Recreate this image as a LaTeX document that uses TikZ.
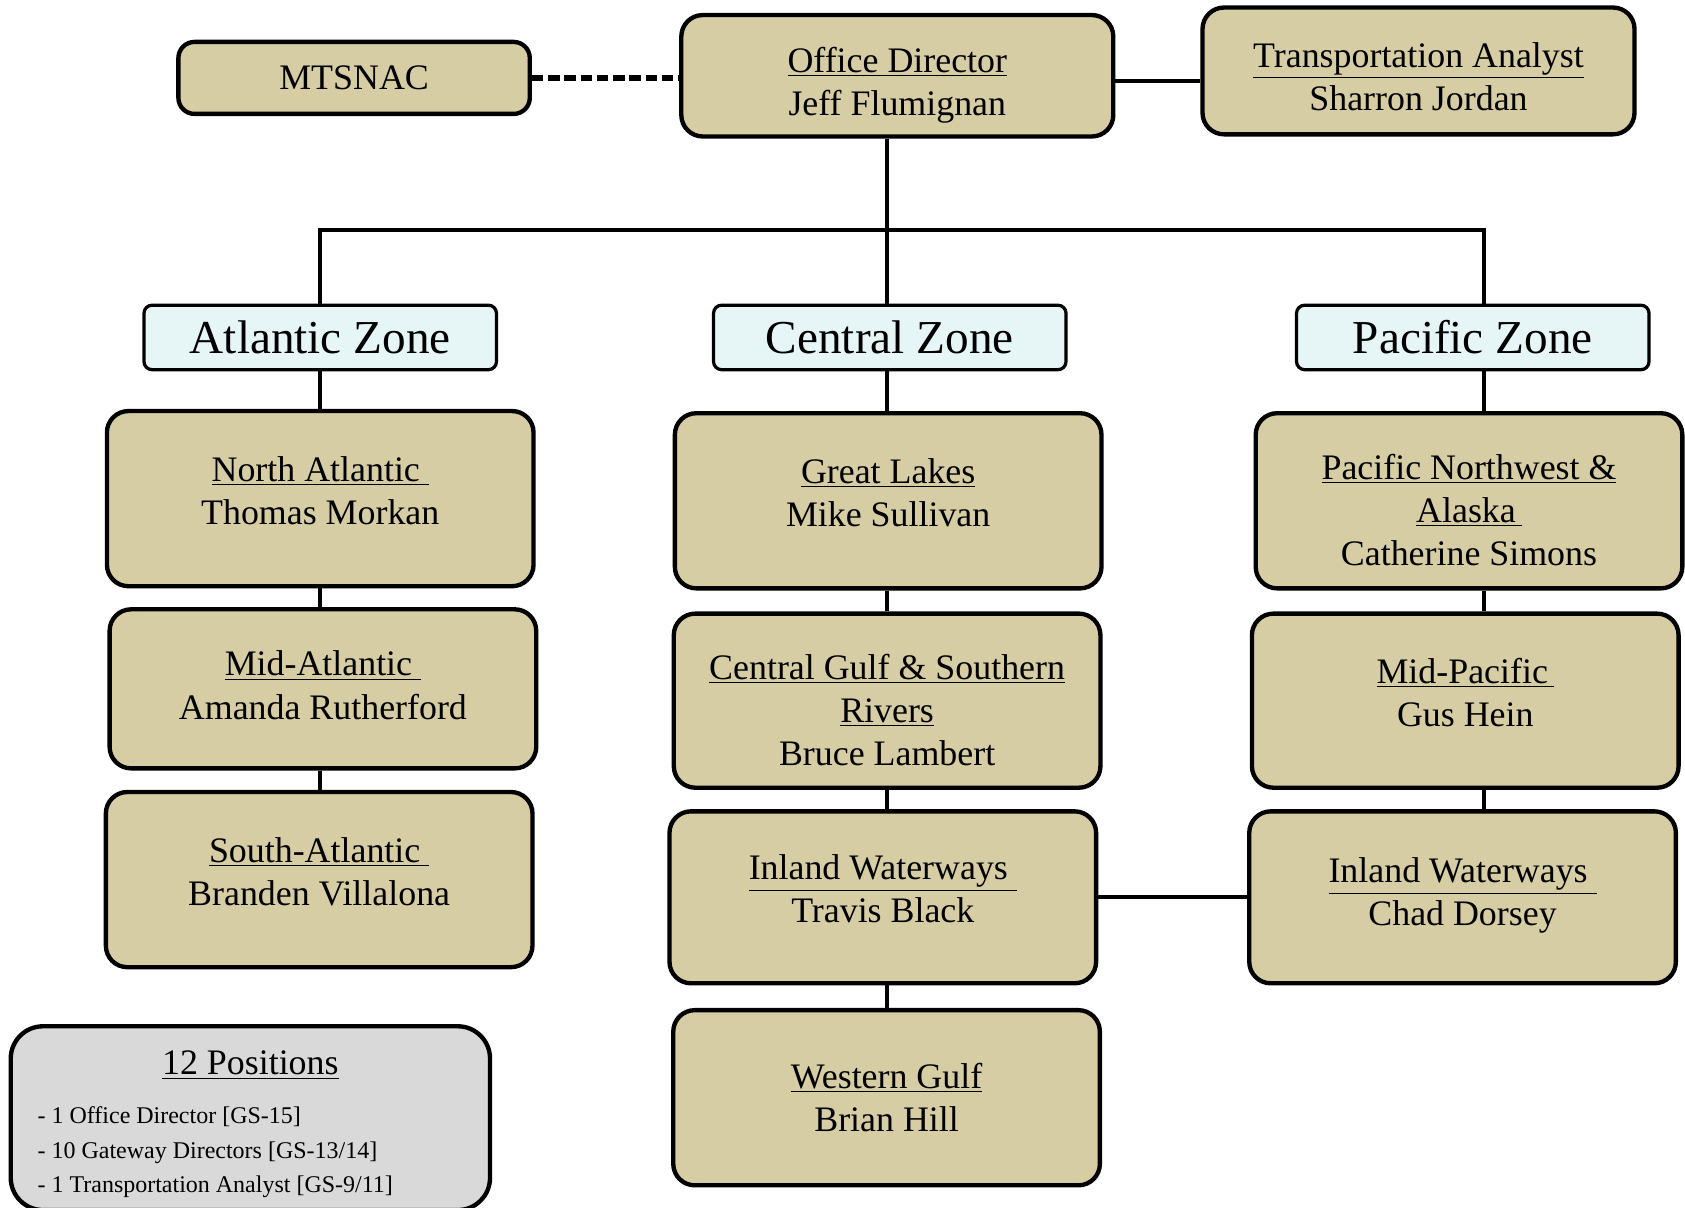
\documentclass[tikz,border=0pt]{standalone}
\usepackage{fontspec}
\setmainfont{Liberation Serif}
\usepackage{tikz}

\definecolor{boxtan}{RGB}{214,205,165}
\definecolor{zoneblue}{RGB}{230,245,246}
\definecolor{notegray}{RGB}{217,217,217}

\newcommand{\lift}{\rule[-9pt]{0pt}{9pt}}
\newcommand{\drop}{\rule{0pt}{23pt}}

\begin{document}
\begin{tikzpicture}[every node/.append style={draw, fill=boxtan, line width=2.3pt, rounded corners=0.4cm, align=center, inner sep=0pt, font=\fontsize{19}{22.8}\selectfont},
    office/.style={minimum width=7.94cm, minimum height=3.26cm},
    zone/.style={fill=zoneblue, line width=1.7pt, rounded corners=0.15cm, minimum width=6.56cm, minimum height=1.2cm, font=\fontsize{25}{30}\selectfont},
    link/.style={line width=2.1pt}]
        \useasboundingbox (0,0) rectangle (31.36,-22.48);

        \node [minimum width=6.54cm, minimum height=1.34cm, rounded corners=0.3cm] (mtsnac) at (6.59,-1.45) {MTSNAC};
        \node [minimum width=8.04cm, minimum height=2.26cm] (od) at (16.7,-1.41) {\drop\underline{Office Director}\\Jeff Flumignan};
        \node [minimum width=8.04cm, minimum height=2.36cm] (ta) at (26.4,-1.32) {\rule{0pt}{19pt}\underline{Transportation Analyst}\\Sharron Jordan};

        \node [zone] (az) at (5.96,-6.28) {Atlantic Zone};
        \node [zone] (cz) at (16.56,-6.28) {Central Zone};
        \node [zone] (pz) at (27.41,-6.28) {Pacific Zone};

        \node [office] (na) at (5.96,-9.28) {\underline{North Atlantic\ }\\Thomas Morkan\lift};
        \node [office, minimum height=2.96cm] (ma) at (6.01,-12.82) {\underline{Mid-Atlantic\ }\\Amanda Rutherford\rule[-4pt]{0pt}{4pt}};
        \node [office] (sa) at (5.94,-16.37) {\underline{South-Atlantic\ }\\Branden Villalona\lift};

        \node [office] (gl) at (16.53,-9.32) {\underline{Great Lakes}\\Mike Sullivan\lift};
        \node [office, minimum height=3.24cm] (cg) at (16.51,-13.04) {\drop\underline{Central Gulf \& Southern}\\\underline{Rivers}\\Bruce Lambert};
        \node [office, minimum height=3.2cm] (iwc) at (16.43,-16.7) {\underline{Inland Waterways\ }\\Travis Black\lift};
        \node [office] (wg) at (16.5,-20.43) {\underline{Western Gulf}\\Brian Hill};

        \node [office] (pnw) at (27.34,-9.32) {\drop\underline{Pacific Northwest \&}\\\underline{Alaska\,}\\Catherine Simons};
        \node [office, minimum height=3.24cm] (mp) at (27.27,-13.04) {\underline{Mid-Pacific\,}\\Gus Hein\lift};
        \node [office, minimum height=3.2cm] (iwp) at (27.22,-16.7) {\underline{Inland Waterways\ }\\Chad Dorsey\rule[-6pt]{0pt}{6pt}};

        \node [fill=notegray, rounded corners=0.6cm, minimum width=8.92cm, minimum height=3.42cm] (pos) at (4.66,-20.81)
            {\rule{0pt}{22pt}\underline{12 Positions}\\[10pt]
             \makebox[7.92cm][l]{\fontsize{12.7}{18.2}\selectfont
             \begin{tabular}{@{}l@{}}
             - 1 Office Director [GS-15]\\
             - 10 Gateway Directors [GS-13/14]\\
             - 1 Transportation Analyst [GS-9/11]
             \end{tabular}}};

        \coordinate (bus) at (16.5,-4.28);
        \coordinate (acol) at (5.96,0);
        \coordinate (ccol) at (16.5,0);
        \coordinate (pcol) at (27.62,0);

        \draw [link, dash pattern=on 6pt off 2.6pt, line width=2.8pt] (mtsnac.east) -- (mtsnac.east -| od.west);
        \draw [link] ([yshift=-0.09cm]od.east) -- ([yshift=-0.09cm]od.east -| ta.west);
        \draw [link] (od.south -| ccol) -- (cz.north -| ccol);
        \draw [link] (az.north -| acol) |- (bus) -| (pz.north -| pcol);

        \draw [link] (az.south -| acol) -- (na.north -| acol);
        \draw [link] (na.south -| acol) -- (ma.north -| acol);
        \draw [link] (ma.south -| acol) -- (sa.north -| acol);

        \draw [link] (cz.south -| ccol) -- (gl.north -| ccol);
        \draw [link] (gl.south -| ccol) -- (cg.north -| ccol);
        \draw [link] (cg.south -| ccol) -- (iwc.north -| ccol);
        \draw [link] (iwc.south -| ccol) -- (wg.north -| ccol);

        \draw [link] (pz.south -| pcol) -- (pnw.north -| pcol);
        \draw [link] (pnw.south -| pcol) -- (mp.north -| pcol);
        \draw [link] (mp.south -| pcol) -- (iwp.north -| pcol);

        \draw [link] (iwc.east) -- (iwp.west);
\end{tikzpicture}
\end{document}
